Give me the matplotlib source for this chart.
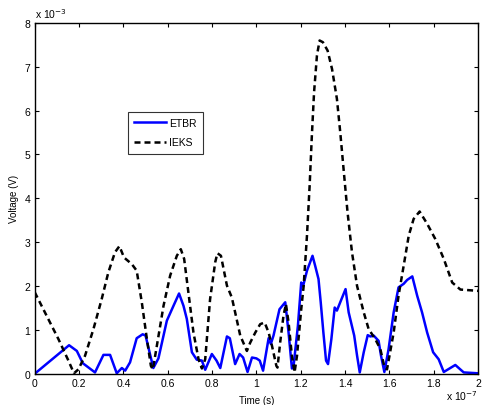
import numpy as np
import matplotlib.pyplot as plt

plt.rcParams['font.family'] = ['Liberation Sans', 'DejaVu Sans']

# ETBR (solid blue), time in 1e-7 s, voltage in 1e-3 V
etbr_t = [0.0, 0.155, 0.19, 0.217, 0.272, 0.31, 0.34, 0.37, 0.393, 0.408, 0.43, 0.46,
          0.487, 0.50, 0.535, 0.558, 0.596, 0.626, 0.651, 0.671, 0.686, 0.709, 0.731,
          0.754, 0.769, 0.799, 0.82, 0.837, 0.867, 0.88, 0.904, 0.924, 0.94, 0.96,
          0.98, 1.0, 1.015, 1.03, 1.055, 1.065, 1.077, 1.104, 1.13, 1.145, 1.16, 1.167,
          1.187, 1.202, 1.21, 1.228, 1.253, 1.265, 1.28, 1.29, 1.302, 1.314, 1.323,
          1.338, 1.353, 1.363, 1.378, 1.402, 1.416, 1.441, 1.454, 1.466, 1.484, 1.502,
          1.514, 1.529, 1.551, 1.562, 1.577, 1.596, 1.619, 1.641, 1.664, 1.68, 1.703,
          1.725, 1.747, 1.77, 1.797, 1.822, 1.845, 1.897, 1.935, 2.0]
etbr_v = [0.0, 0.65, 0.52, 0.24, 0.03, 0.43, 0.43, 0.01, 0.13, 0.07, 0.26, 0.81,
          0.9, 0.87, 0.13, 0.35, 1.21, 1.55, 1.83, 1.55, 1.25, 0.49, 0.32,
          0.3, 0.09, 0.45, 0.3, 0.13, 0.85, 0.81, 0.22, 0.45, 0.37, 0.04,
          0.37, 0.35, 0.3, 0.07, 0.81, 0.68, 0.87, 1.47, 1.63, 0.94, 0.12, 0.15,
          1.09, 2.08, 1.99, 2.35, 2.69, 2.46, 2.16, 1.63, 0.94, 0.3, 0.22,
          0.79, 1.51, 1.44, 1.63, 1.93, 1.4, 0.87, 0.41, 0.03, 0.49, 0.88,
          0.85, 0.87, 0.75, 0.41, 0.04, 0.56, 1.4, 1.97, 2.05, 2.14, 2.22,
          1.78, 1.4, 0.94, 0.49, 0.33, 0.04, 0.2, 0.03, 0.01]

# IEKS (dashed black)
ieks_t = [0.0, 0.054, 0.107, 0.152, 0.177, 0.197, 0.227, 0.265, 0.302, 0.332, 0.362,
          0.382, 0.403, 0.438, 0.46, 0.483, 0.506, 0.524, 0.533, 0.551, 0.581, 0.611,
          0.641, 0.659, 0.674, 0.693, 0.716, 0.739, 0.754, 0.769, 0.791, 0.814, 0.824,
          0.84, 0.867, 0.889, 0.904, 0.927, 0.957, 0.972, 0.995, 1.017, 1.037, 1.055,
          1.07, 1.09, 1.095, 1.107, 1.122, 1.133, 1.145, 1.16, 1.172, 1.183, 1.202,
          1.213, 1.228, 1.24, 1.25, 1.26, 1.273, 1.285, 1.3, 1.321, 1.341, 1.363,
          1.378, 1.393, 1.411, 1.431, 1.454, 1.484, 1.506, 1.536, 1.559, 1.578, 1.589,
          1.619, 1.641, 1.664, 1.687, 1.709, 1.736, 1.77, 1.807, 1.845, 1.883, 1.92, 2.0]
ieks_v = [1.86, 1.32, 0.79, 0.3, 0.01, 0.1, 0.41, 1.02, 1.7, 2.31, 2.77,
          2.91, 2.65, 2.5, 2.35, 1.63, 0.79, 0.18, 0.1, 0.64, 1.55, 2.24,
          2.69, 2.84, 2.62, 1.86, 0.94, 0.33, 0.12, 0.33, 1.7, 2.54, 2.75,
          2.69, 2.01, 1.74, 1.4, 0.87, 0.52, 0.71, 0.94, 1.13, 1.17, 0.94,
          0.64, 0.18, 0.14, 0.71, 1.32, 1.59, 1.17, 0.41, 0.03, 0.41, 1.47,
          2.0, 3.15, 4.29, 5.43, 6.42, 7.26, 7.6, 7.56, 7.37, 6.95, 6.27,
          5.51, 4.67, 3.68, 2.77, 2.0, 1.4, 1.02, 0.79, 0.56, 0.14, 0.1,
          0.94, 1.78, 2.46, 3.15, 3.53, 3.7, 3.42, 3.07, 2.62, 2.08, 1.92, 1.89]

xticks = [0, 0.2, 0.4, 0.6, 0.8, 1, 1.2, 1.4, 1.6, 1.8, 2]
yticks = [0, 1, 2, 3, 4, 5, 6, 7, 8]

fig = plt.figure(figsize=(4.82, 4.06), dpi=100)
ax = fig.add_axes([0.072, 0.077, 0.92, 0.864])

ax.plot(etbr_t, etbr_v, color='#0000ff', lw=1.8, label='ETBR')
ax.plot(ieks_t, ieks_v, color='black', lw=1.8, ls='--', dashes=(2.4, 1.6), label='IEKS')

ax.set_xlim(0, 2)
ax.set_ylim(0, 8)
ax.set_xticks(xticks)
ax.set_xticklabels([f'{v:g}' for v in xticks])
ax.set_yticks(yticks)
ax.tick_params(direction='in', top=True, right=True, labelsize=7.5, length=3, width=0.8, pad=3)
for s in ax.spines.values():
    s.set_linewidth(1.0)

ax.set_xlabel('Time (s)', fontsize=7, labelpad=5)
ax.set_ylabel('Voltage (V)', fontsize=7, labelpad=4)

ax.text(0.0, 1.008, r'x 10$^{-3}$', transform=ax.transAxes, fontsize=7.5, ha='left', va='bottom')
ax.text(1.0, -0.076, r'x 10$^{-7}$', transform=ax.transAxes, fontsize=7.5, ha='right', va='baseline')

leg = ax.legend(loc='upper left', bbox_to_anchor=(0.21, 0.747), borderaxespad=0, fontsize=7.5,
                frameon=True, fancybox=False, edgecolor='black', handlelength=3.1, borderpad=0.6,
                labelspacing=0.9, handletextpad=0.3)
leg.get_frame().set_linewidth(0.8)

fig.savefig('out.png', dpi=100)
